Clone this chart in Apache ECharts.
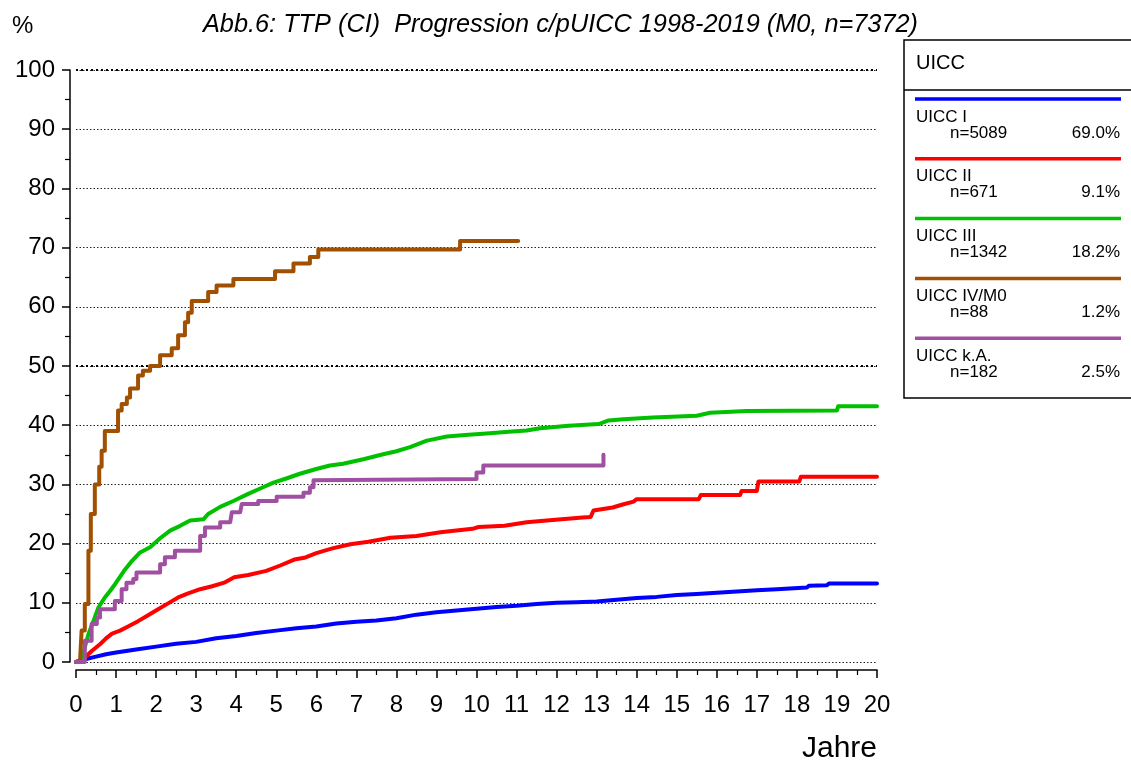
<!DOCTYPE html>
<html>
<head>
<meta charset="utf-8">
<script src="https://cdn.jsdelivr.net/npm/echarts@6/dist/echarts.min.js"></script>
<style>
  html, body { margin: 0; padding: 0; background: #fff; }
  #chart { width: 1131px; height: 767px; }
</style>
</head>
<body>
<div id="chart"></div>
<script>
// Progressionskurven (Jahre, Progression in %)
const uicc1 = [[0,0],[0.25,0.5],[0.5,0.9],[0.75,1.3],[1,1.6],[1.5,2.1],[2,2.6],[2.5,3.1],[3,3.4],[3.5,4.0],[4,4.4],[4.5,4.9],[5,5.3],[5.5,5.7],[6,6.0],[6.5,6.5],[7,6.8],[7.5,7.0],[8,7.4],[8.5,8.0],[9,8.4],[9.5,8.7],[10,9.0],[10.5,9.3],[11,9.5],[11.5,9.8],[12,10.0],[12.5,10.1],[13,10.2],[13.5,10.5],[14,10.8],[14.5,11.0],[15,11.3],[15.5,11.5],[16,11.7],[16.5,11.9],[17,12.1],[17.5,12.3],[18.25,12.6],[18.3,12.9],[18.75,12.95],[18.8,13.25],[20,13.25]];
const uicc2 = [[0,0],[0.15,0.3],[0.4,1.9],[0.6,3.0],[0.75,4.0],[0.9,4.8],[1.1,5.3],[1.3,6.0],[1.55,6.9],[1.8,7.9],[2.05,8.9],[2.3,9.9],[2.55,10.9],[2.8,11.6],[3.1,12.3],[3.4,12.8],[3.7,13.4],[3.95,14.3],[4.3,14.7],[4.75,15.4],[5.1,16.3],[5.45,17.3],[5.7,17.6],[6.0,18.4],[6.4,19.2],[6.85,19.9],[7.3,20.3],[7.85,21.0],[8.5,21.3],[9.1,21.9],[9.9,22.5],[10.05,22.8],[10.7,23.0],[11.25,23.6],[11.9,24.0],[12.65,24.4],[12.85,24.5],[12.92,25.6],[13.4,26.1],[13.65,26.6],[13.92,27.1],[14.0,27.5],[15.55,27.5],[15.6,28.2],[16.58,28.2],[16.62,28.9],[17.0,28.9],[17.04,30.5],[18.06,30.5],[18.1,31.3],[20,31.3]];
const uicc3 = [[0,0],[0.14,0.2],[0.22,2.5],[0.31,4.7],[0.45,7.2],[0.56,9.2],[0.72,10.9],[0.85,12.0],[0.97,13.1],[1.2,15.4],[1.4,17.1],[1.6,18.5],[1.85,19.4],[2.1,20.9],[2.35,22.2],[2.6,23.0],[2.85,23.9],[3.18,24.1],[3.3,25.0],[3.6,26.2],[3.93,27.2],[4.3,28.4],[4.6,29.3],[4.93,30.3],[5.25,31.0],[5.59,31.8],[6.0,32.6],[6.34,33.2],[6.67,33.5],[7.2,34.3],[7.67,35.1],[8.0,35.6],[8.34,36.3],[8.76,37.4],[9.26,38.1],[9.8,38.4],[10.25,38.6],[10.8,38.9],[11.25,39.1],[11.59,39.5],[12.3,39.9],[13.05,40.2],[13.3,40.8],[13.67,41.0],[14.4,41.3],[15.5,41.6],[15.83,42.1],[16.75,42.4],[19.0,42.5],[19.03,43.2],[20,43.2]];
const uicc4 = [[0,0],[0.1,0],[0.14,5.3],[0.22,9.8],[0.31,18.8],[0.37,25],[0.47,30],[0.58,33],[0.64,35.7],[0.72,39],[1.05,42.5],[1.14,43.6],[1.27,44.7],[1.35,46.2],[1.55,48.4],[1.67,49.2],[1.85,50],[2.10,51.8],[2.39,53],[2.55,55.2],[2.72,57.4],[2.80,59],[2.89,61],[3.30,62.5],[3.51,63.6],[3.93,64.7],[4.97,66],[5.43,67.3],[5.84,68.4],[6.05,69.7],[9.59,71.1],[11.04,71.1]];
const uiccKA = [[0,0],[0.1,0],[0.22,3.6],[0.39,6.4],[0.52,7.5],[0.6,8.9],[0.97,10.3],[1.14,12.3],[1.26,13.4],[1.43,14.0],[1.51,15.1],[2.10,16.5],[2.22,17.7],[2.47,18.8],[3.10,21.3],[3.22,22.7],[3.6,23.6],[3.85,23.9],[3.89,25.3],[4.1,25.5],[4.14,26.7],[4.55,27.2],[5.01,27.9],[5.68,28.6],[5.84,29.5],[5.93,30.7],[5.97,30.9],[10.0,32.0],[10.17,33.2],[13.17,35.0]];

const seriesNames = ['UICC I', 'UICC II', 'UICC III', 'UICC IV/M0', 'UICC k.A.'];
const seriesCounts = ['n=5089', 'n=671', 'n=1342', 'n=88', 'n=182'];
const seriesPercents = ['69.0%', '9.1%', '18.2%', '1.2%', '2.5%'];
const seriesColors = ['#0000ff', '#ff0000', '#00c000', '#a05000', '#a050a0'];
const seriesData = [uicc1, uicc2, uicc3, uicc4, uiccKA];
// grosse Gruppen fast glatt, kleine Gruppen als Treppe
const seriesStep = [false, false, false, 'end', 'end'];

const FONT = '"Liberation Sans", Arial, sans-serif';

const chart = echarts.init(document.getElementById('chart'));

// Legende als Kasten rechts
const legendGraphics = [
  { type: 'rect', shape: { x: 904, y: 40, width: 260, height: 358 }, style: { fill: '#fff', stroke: '#000', lineWidth: 1.5 } },
  { type: 'line', shape: { x1: 904, y1: 90, x2: 1131, y2: 90 }, style: { stroke: '#000', lineWidth: 1.5 } },
  { type: 'text', x: 916, y: 63, style: { text: 'UICC', font: '20px ' + FONT, fill: '#000', verticalAlign: 'middle' } }
];
seriesNames.forEach((name, i) => {
  const y0 = 99 + i * 59.8;
  legendGraphics.push(
    { type: 'line', shape: { x1: 915, y1: y0, x2: 1121, y2: y0 }, style: { stroke: seriesColors[i], lineWidth: 3.5 } },
    { type: 'text', x: 916, y: y0 + 18, style: { text: name, font: '17px ' + FONT, fill: '#000', verticalAlign: 'middle' } },
    { type: 'text', x: 950, y: y0 + 34, style: { text: seriesCounts[i], font: '17px ' + FONT, fill: '#000', verticalAlign: 'middle' } },
    { type: 'text', x: 1120, y: y0 + 34, style: { text: seriesPercents[i], font: '17px ' + FONT, fill: '#000', align: 'right', verticalAlign: 'middle' } }
  );
});

const series = seriesNames.map((name, i) => ({
  name: name,
  type: 'line',
  step: seriesStep[i],
  data: seriesData[i],
  showSymbol: false,
  lineStyle: { color: seriesColors[i], width: 4, cap: 'round', join: 'round' },
  itemStyle: { color: seriesColors[i] },
  z: 3 + i
}));

// kräftigere Linien bei 50 und 100
series[0].markLine = {
  silent: true,
  symbol: 'none',
  label: { show: false },
  lineStyle: { color: '#000', type: [2, 3], width: 2 },
  data: [{ yAxis: 50 }, { yAxis: 100 }]
};

const option = {
  animation: false,
  backgroundColor: '#fff',
  textStyle: { fontFamily: FONT },
  title: {
    text: 'Abb.6: TTP (CI)  Progression c/pUICC 1998-2019 (M0, n=7372)',
    left: 198,
    top: 7,
    textStyle: { fontSize: 25.3, fontStyle: 'italic', fontWeight: 'normal', color: '#000', fontFamily: FONT }
  },
  grid: { left: 76, right: 254, top: 70, bottom: 105 },
  xAxis: {
    type: 'value',
    min: 0,
    max: 20,
    interval: 1,
    offset: 8,
    name: 'Jahre',
    nameLocation: 'end',
    nameGap: 0,
    nameTextStyle: { fontSize: 30, color: '#000', align: 'right', verticalAlign: 'top', padding: [64, 0, 0, 0] },
    axisLine: { onZero: false, lineStyle: { color: '#000', width: 1.5 } },
    axisTick: { length: 8, lineStyle: { color: '#000', width: 1.5 } },
    minorTick: { show: true, splitNumber: 2, length: 5, lineStyle: { color: '#000', width: 1.2 } },
    axisLabel: { fontSize: 24, color: '#000', margin: 23 },
    splitLine: { show: false }
  },
  yAxis: {
    type: 'value',
    min: 0,
    max: 100,
    interval: 10,
    offset: 6,
    name: '%',
    nameLocation: 'end',
    nameGap: 0,
    nameTextStyle: { fontSize: 24, color: '#000', align: 'left', verticalAlign: 'bottom', padding: [0, 0, 32, -58] },
    axisLine: { onZero: false, lineStyle: { color: '#000', width: 1.5 } },
    axisTick: { length: 8, lineStyle: { color: '#000', width: 1.5 } },
    minorTick: { show: true, splitNumber: 2, length: 5, lineStyle: { color: '#000', width: 1.2 } },
    axisLabel: { fontSize: 24, color: '#000', margin: 15 },
    splitLine: { show: true, lineStyle: { color: '#222', type: [1.5, 2], width: 1 } }
  },
  graphic: legendGraphics,
  series: series
};

chart.setOption(option);
</script>
</body>
</html>
